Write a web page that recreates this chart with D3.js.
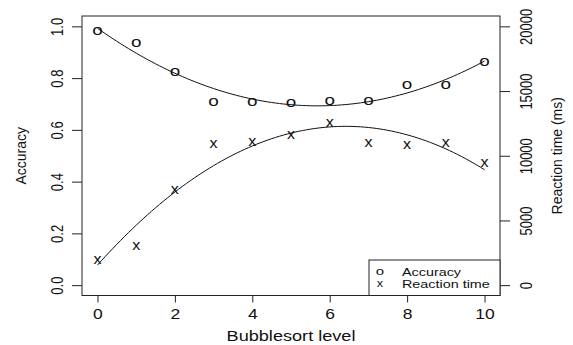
<!DOCTYPE html>
<html>
<head>
<meta charset="utf-8">
<script src="https://cdn.jsdelivr.net/npm/d3@7"></script>
<style>
  body { margin: 0; background: #fff; }
  text { font-family: "Liberation Sans", Arial, sans-serif; fill: #111; }
</style>
</head>
<body>
<div id="viz"></div>
<script>
const width = 573;
const height = 345;
const margin = {top: 16, right: 73, bottom: 49.5, left: 82};
const stretch = 1.25; // the reference text looks pulled wide

// data
const levels = [0, 1, 2, 3, 4, 5, 6, 7, 8, 9, 10];
const accuracy = [0.981, 0.936, 0.824, 0.708, 0.708, 0.704, 0.711, 0.712, 0.772, 0.772, 0.862];
const reactionTime = [1950, 3030, 7350, 10880, 11080, 11590, 12540, 11000, 10820, 10950, 9410];
const xTicks = [0, 2, 4, 6, 8, 10];
const accTicks = [0.0, 0.2, 0.4, 0.6, 0.8, 1.0];
const rtTicks = [0, 5000, 10000, 15000, 20000];
const legendLabels = ['Accuracy', 'Reaction time'];

// least squares quadratic fit (like lm(y ~ x + I(x^2)))
const quadFit = (xs, ys) => {
  const mx = d3.mean(xs);
  const t = xs.map(x => x - mx);
  const mt2 = d3.mean(t, v => v * v);
  const q = t.map(v => v * v - mt2);
  const my = d3.mean(ys);
  const b1 = d3.sum(t, (v, i) => v * ys[i]) / d3.sum(t, v => v * v);
  const b2 = d3.sum(q, (v, i) => v * ys[i]) / d3.sum(q, v => v * v);
  return x => my + b1 * (x - mx) + b2 * ((x - mx) ** 2 - mt2);
};

const svg = d3.select('#viz')
  .append('svg')
  .attr('width', width)
  .attr('height', height);

const x = d3.scaleLinear()
  .domain([-0.4, 10.4])
  .range([margin.left, width - margin.right]);
const yAcc = d3.scaleLinear()
  .domain([-0.04, 1.04])
  .range([height - margin.bottom, margin.top]);
const yRt = d3.scaleLinear()
  .domain([-800, 20800])
  .range([height - margin.bottom, margin.top]);

// axes
const xAxis = svg.append('g')
  .attr('transform', `translate(0,${height - margin.bottom})`)
  .call(d3.axisBottom(x).tickValues(xTicks).tickSize(7).tickPadding(5).tickFormat(d3.format('d')));
const leftAxis = svg.append('g')
  .attr('transform', `translate(${margin.left},0)`)
  .call(d3.axisLeft(yAcc).tickValues(accTicks).tickSize(10).tickFormat(d3.format('.1f')));
const rightAxis = svg.append('g')
  .attr('transform', `translate(${width - margin.right},0)`)
  .call(d3.axisRight(yRt).tickValues(rtTicks).tickSize(10).tickFormat(d3.format('d')));

[xAxis, leftAxis, rightAxis].forEach(g => {
  g.select('.domain').remove();
  g.selectAll('line').attr('stroke', '#222');
  g.selectAll('text').attr('fill', '#111').style('font-size', '13px');
});

xAxis.selectAll('.tick text')
  .style('font-size', '14px')
  .attr('y', null).attr('dy', null)
  .attr('transform', `translate(0,23) scale(${stretch},1)`);

leftAxis.selectAll('.tick text')
  .attr('x', null).attr('dy', null)
  .attr('text-anchor', 'middle')
  .attr('transform', `translate(-25,0) scale(${stretch},1) rotate(-90) translate(0,4.5)`);
rightAxis.selectAll('.tick text')
  .attr('x', null).attr('dy', null)
  .attr('text-anchor', 'middle')
  .attr('transform', `translate(26,0) scale(${stretch},1) rotate(-90) translate(0,4.5)`);

// plot frame
svg.append('rect')
  .attr('x', margin.left)
  .attr('y', margin.top)
  .attr('width', width - margin.left - margin.right)
  .attr('height', height - margin.top - margin.bottom)
  .attr('fill', 'none')
  .attr('stroke', '#222')
  .attr('stroke-width', 1);

// axis titles
svg.append('text')
  .attr('transform', `translate(${(margin.left + width - margin.right) / 2},341) scale(${stretch},1)`)
  .attr('text-anchor', 'middle')
  .style('font-size', '14.5px')
  .text('Bubblesort level');
svg.append('text')
  .attr('transform', `translate(26,${(margin.top + height - margin.bottom) / 2}) scale(1.1,1) rotate(-90)`)
  .attr('text-anchor', 'middle')
  .style('font-size', '14px')
  .text('Accuracy');
svg.append('text')
  .attr('transform', `translate(562,${(margin.top + height - margin.bottom) / 2}) scale(1.1,1) rotate(-90)`)
  .attr('text-anchor', 'middle')
  .style('font-size', '14px')
  .text('Reaction time (ms)');

// fitted curves
const grid = d3.range(0, 10.001, 0.1);
const accFit = quadFit(levels, accuracy);
const rtFit = quadFit(levels, reactionTime);

svg.append('path')
  .attr('d', d3.line().x(d => x(d)).y(d => yAcc(accFit(d)))(grid))
  .attr('fill', 'none')
  .attr('stroke', '#111')
  .attr('stroke-width', 1);
svg.append('path')
  .attr('d', d3.line().x(d => x(d)).y(d => yRt(rtFit(d)))(grid))
  .attr('fill', 'none')
  .attr('stroke', '#111')
  .attr('stroke-width', 1);

// points, drawn as the letters o and x
const marker = (sel, ch, sx, size) => sel
  .attr('text-anchor', 'middle')
  .style('font-size', size + 'px')
  .attr('fill', '#111')
  .text(ch)
  .each(function () {
    const s = d3.select(this);
    s.attr('transform', `translate(${s.attr('x')},${s.attr('y')}) scale(${sx},1)`)
      .attr('x', 0).attr('y', 0).attr('dy', '0.27em');
  });

svg.append('g').selectAll('text')
  .data(levels)
  .join('text')
  .attr('x', d => x(d))
  .attr('y', (d, i) => yAcc(accuracy[i]))
  .call(marker, 'o', 1.35, 14);

svg.append('g').selectAll('text')
  .data(levels)
  .join('text')
  .attr('x', d => x(d))
  .attr('y', (d, i) => yRt(reactionTime[i]))
  .call(marker, 'x', 1.15, 14);

// legend
const legendX = 369;
const legendY = 260;
svg.append('rect')
  .attr('x', legendX)
  .attr('y', legendY)
  .attr('width', width - margin.right - legendX)
  .attr('height', height - margin.bottom - legendY)
  .attr('fill', '#fff')
  .attr('stroke', '#222')
  .attr('stroke-width', 1);

const legend = svg.append('g').selectAll('g')
  .data(legendLabels)
  .join('g')
  .attr('transform', (d, i) => `translate(${legendX},${legendY + 12 + i * 12})`);
legend.append('text')
  .attr('x', 11)
  .attr('y', 0)
  .each(function (d, i) { marker(d3.select(this), i === 0 ? 'o' : 'x', i === 0 ? 1.3 : 1.1, 11.5); });
legend.append('text')
  .attr('transform', `translate(33,0) scale(${stretch},1)`)
  .attr('dy', '0.35em')
  .style('font-size', '11.5px')
  .text(d => d);
</script>
</body>
</html>
